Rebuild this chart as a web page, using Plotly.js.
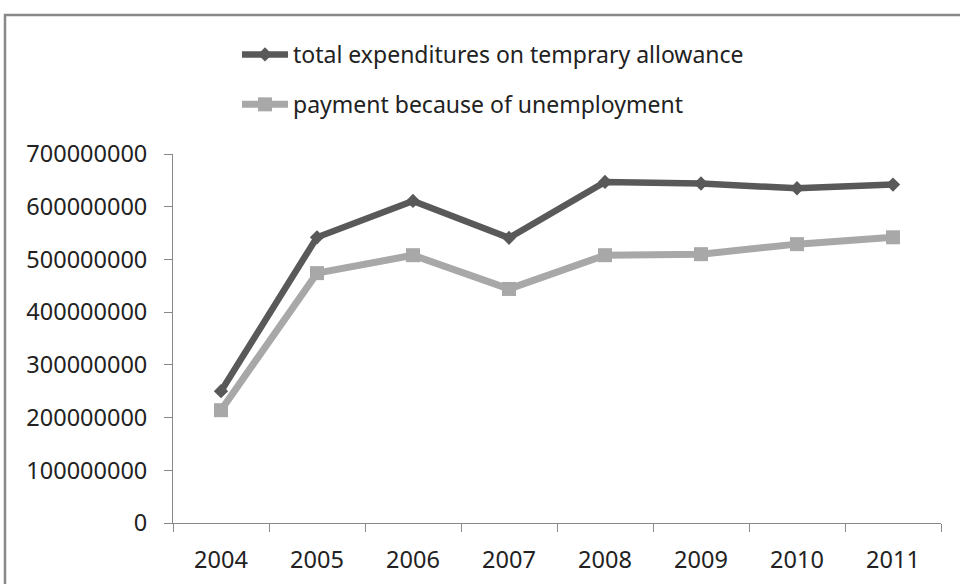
<!DOCTYPE html>
<html><head><meta charset="utf-8">
<script src="https://cdn.plot.ly/plotly-3.0.1.min.js"></script>
<style>html,body{margin:0;padding:0;background:#fff}#c{width:960px;height:584px}</style>
</head><body><div id="c"></div>
<script>
const years = ['2004','2005','2006','2007','2008','2009','2010','2011'];
const totalExpenditures = [250000000, 542000000, 611000000, 541000000, 647000000, 644000000, 635000000, 642000000];
const unemploymentPayment = [214000000, 474000000, 508000000, 444000000, 508000000, 510000000, 529000000, 542000000];
const seriesNames = ['total expenditures on temprary allowance', 'payment because of unemployment'];

const W = 960, H = 584, L = 173, R = 19, T = 154, B = 61;
const pw = W - L - R, ph = H - T - B;
const px = v => (v - L) / pw;
const py = v => (H - B - v) / ph;

const font = 'Noto Sans, sans-serif';
const traces = [
  {x: years, y: totalExpenditures, name: seriesNames[0], type: 'scatter', mode: 'lines+markers',
   legendgroup: 'a',
   line: {color: '#595959', width: 6.5}, marker: {symbol: 'diamond', size: 11, color: '#595959'}},
  {x: years, y: unemploymentPayment, name: seriesNames[1], type: 'scatter', mode: 'lines+markers',
   legendgroup: 'b',
   line: {color: '#a8a8a8', width: 7}, marker: {symbol: 'square', size: 14, color: '#a8a8a8'}}
];
const layout = {
  width: W, height: H,
  margin: {l: L, r: R, t: T, b: B, autoexpand: false},
  paper_bgcolor: '#fff', plot_bgcolor: '#fff',
  font: {family: font, size: 20, color: '#222'},
  showlegend: true,
  legend: {x: px(237), y: py(33), xanchor: 'left', yanchor: 'top',
           orientation: 'v', traceorder: 'grouped', tracegroupgap: 17,
           font: {family: font, size: 23, color: '#222'}, bgcolor: 'rgba(0,0,0,0)', itemwidth: 46},
  xaxis: {type: 'category', range: [-0.5, 7.5], tickson: 'boundaries', ticks: 'outside', ticklen: 8,
          tickcolor: '#888', showline: true, linecolor: '#888', linewidth: 1, showgrid: false, zeroline: false,
          tickangle: 0, tickfont: {family: font, size: 23.5, color: '#222'}, ticklabelstandoff: 16, fixedrange: true},
  yaxis: {range: [0, 700000000], dtick: 100000000, tick0: 0, tickformat: 'd', ticks: 'outside', ticklen: 8,
          tickcolor: '#888', showline: true, linecolor: '#888', linewidth: 1, showgrid: false, zeroline: false,
          tickfont: {family: font, size: 23.5, color: '#222'}, ticklabelstandoff: 12, fixedrange: true},
  shapes: [
    {type: 'rect', xref: 'paper', yref: 'paper', x0: px(5), x1: px(1000), y0: py(700), y1: py(15),
     line: {color: '#888', width: 2.5}, fillcolor: 'rgba(0,0,0,0)', layer: 'below'}
  ]
};
Plotly.newPlot('c', traces, layout, {displayModeBar: false, staticPlot: true});
</script></body></html>
